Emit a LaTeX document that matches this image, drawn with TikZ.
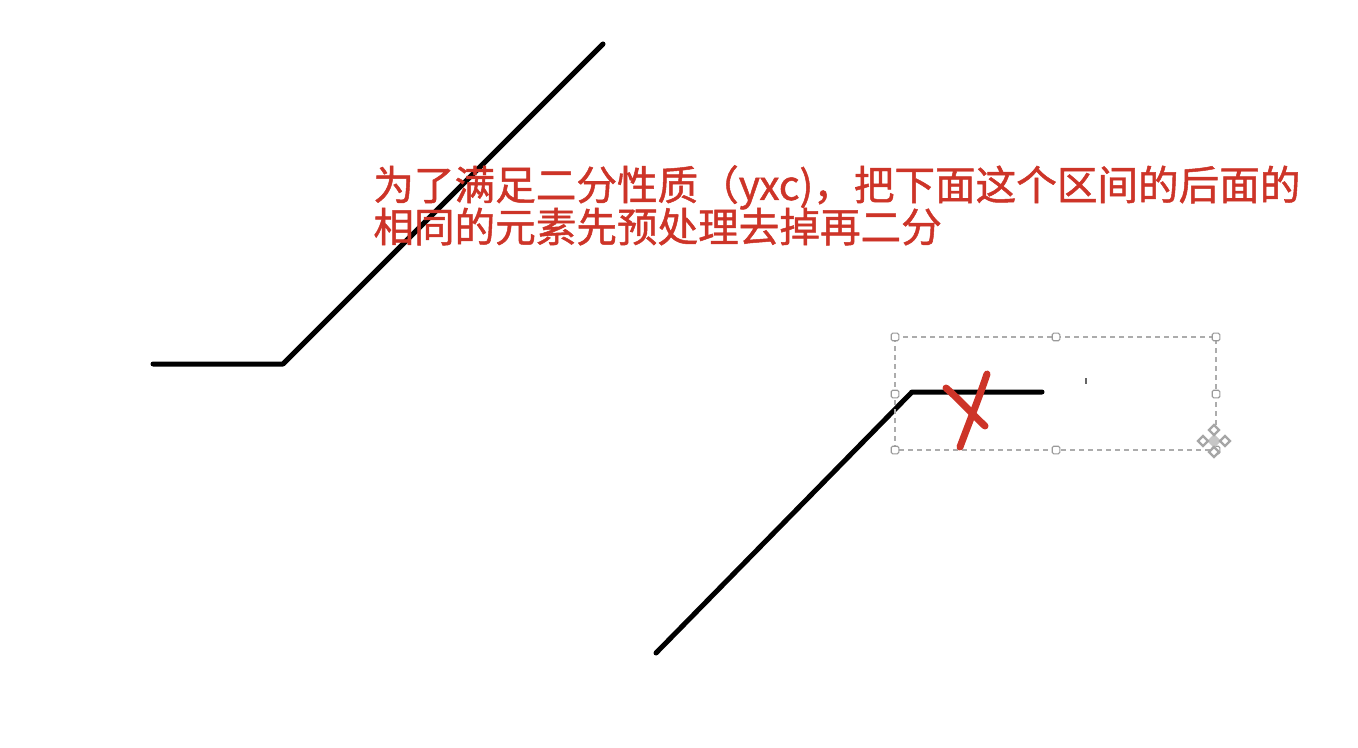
\documentclass[tikz,border=0pt]{standalone}
\usepackage{fontspec}
\newfontfamily\cjk[FakeBold=1.2]{Noto Sans CJK SC}
\definecolor{notered}{RGB}{205,52,40}

\tikzset{
    curve/.style={line width=2.5pt, line cap=round, line join=round},
    handle/.style={draw=gray!80, fill=white, line width=0.55pt, rounded corners=0.7pt,
        minimum size=3.8pt, inner sep=0pt},
    note/.style={text=notered, inner sep=0pt, anchor=base west,
        font=\cjk\fontsize{20.3}{21}\selectfont},
    cross/.style={draw=notered, line width=3.5pt, line cap=round},
}

\begin{document}
\begin{tikzpicture}[x=0.5pt,y=-0.5pt]
    \useasboundingbox (0,0) rectangle (1358,748);
    % left curve
    \draw[curve] (153,364) -- (283,364) -- (603,44);
    % right curve
    \draw[curve] (656,653) -- (912,392) -- (1042,392);%
    % selection box
    \draw[gray!65, line width=0.75pt, dash pattern=on 2.5pt off 2pt] (895,337) rectangle (1216,450);
    \foreach \x/\y [count=\i] in {895/337,1056/337,1216/337,895/394,1216/394,895/450,1056/450,1216/450}
        \node[handle] (h\i) at (\x,\y) {};
    \fill[gray!80!black] (1085,378) rectangle (1087,384);
    \fill[gray!45] (1214,434) -- (1221,441) -- (1214,448) -- (1207,441) -- cycle;
    \foreach \x/\y in {1214/430,1203/441,1225/441,1214/452}
        \draw[gray!70, fill=white, line width=1.1pt] (\x-5,\y) -- (\x,\y-5) -- (\x+5,\y) -- (\x,\y+5) -- cycle;%
    % red cross
    \draw[cross] (987,374) .. controls (979,398) and (967,428) .. (960,447);
    \draw[cross] (946,388) .. controls (962,402) and (972,414) .. (985,426);%
    % note
    \node[note] (line1) at (373,200) {为了满足二分性质（yxc)，把下面这个区间的后面的};
    \node[note] (line2) at (373,242) {相同的元素先预处理去掉再二分};
\end{tikzpicture}
\end{document}
